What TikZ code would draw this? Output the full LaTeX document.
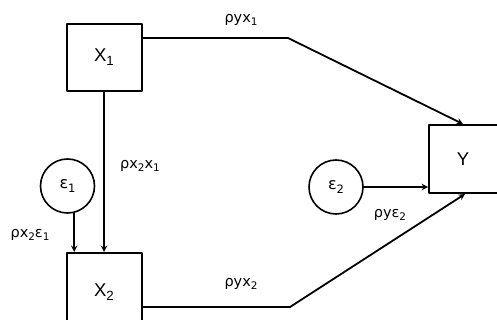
\documentclass[tikz,border=0pt]{standalone}
\usepackage{fontspec}
\setmainfont{Liberation Sans}
\newfontfamily\grkfont{DejaVu Sans}
\newcommand{\idx}[1]{\raisebox{-0.4ex}{\scalebox{0.72}{#1}}}
\tikzset{
  varbox/.style={draw, line width=2pt, minimum width=75pt, minimum height=67pt, inner sep=0pt},
  errnode/.style={draw, circle, line width=1.6pt, minimum size=54pt, inner sep=0pt, font=\grkfont\fontsize{16}{19}\selectfont},
  coef/.style={font=\grkfont\fontsize{14.5}{17}\selectfont, inner sep=0pt},
  link/.style={line width=1.8pt, ->}
}
\begin{document}
\begin{tikzpicture}[x=1pt, y=-1pt, line cap=round, line join=round, >=stealth, font=\fontsize{18.5}{22}\selectfont]
	\clip (0,0) rectangle (497,320);
	\node[varbox] (x1) at (104,57.5) {X\idx{1}};
	\node[varbox, minimum height=78pt] (x2) at (104,292) {X\idx{2}};
	\node[varbox, minimum width=84pt, minimum height=68pt] (y) at (471,159) {};
	\node[inner sep=0pt] (ytxt) at (463,159) {Y};
	\node[errnode] (e1) at (67.5,186) {ε\idx{1}};
	\node[errnode] (e2) at (336,187) {ε\idx{2}};
	\coordinate (k1) at (288,38);
	\coordinate (k2) at (290,307);
	% paths
	\draw[link] (x1.east |- k1) -- (k1) -- (ytxt |- y.north);
	\draw[link] (x2.east |- k2) -- (k2) -- ([xshift=2pt]ytxt |- y.south);
	\draw[link] (x1.south) -- (x2.north);
	\draw[link] (e1.-76) -- (e1.-76 |- x2.north);
	\draw[link] (e2.east) -- (e2.east -| y.west);
	% coefficients
	\node[coef] (cyx1) at (241,20) {ρyx\idx{1}};
	\node[coef] (cx2x1) at (140,166) {ρx\idx{2}x\idx{1}};
	\node[coef] (cx2e1) at (30,235) {ρx\idx{2}ε\idx{1}};
	\node[coef] (cyx2) at (241,284) {ρyx\idx{2}};
	\node[coef] (cye2) at (390,215) {ρyε\idx{2}};
\end{tikzpicture}
\end{document}
